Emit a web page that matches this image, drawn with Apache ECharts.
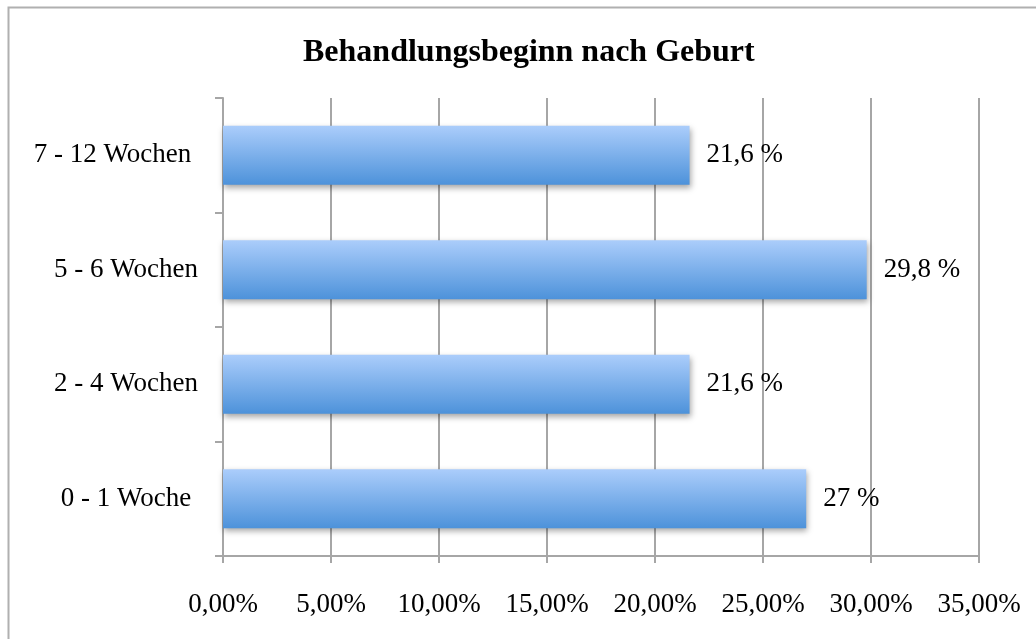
<!DOCTYPE html>
<html>
<head>
<meta charset="utf-8">
<script src="https://cdn.jsdelivr.net/npm/echarts@6/dist/echarts.min.js"></script>
<style>html,body{margin:0;padding:0;background:#fff}#c{width:1036px;height:639px}</style>
</head>
<body>
<div id="c"></div>
<script>
const titleText = 'Behandlungsbeginn nach Geburt';
const categories = ['0 - 1 Woche ', '2 - 4 Wochen', '5 - 6 Wochen', '7 - 12 Wochen '];
const values = [27, 21.6, 29.8, 21.6];
const valueLabels = ['27 %', '21,6 %', '29,8 %', '21,6 %'];
const xMin = 0, xMax = 35, xStep = 5;

const chart = echarts.init(document.getElementById('c'));
const font = '"Liberation Serif", "Times New Roman", serif';
const gridColor = '#a6a6a6';
chart.setOption({
  animation: false,
  textStyle: { fontFamily: font },
  graphic: [{
    type: 'rect', left: 6, top: 5, silent: true, z: -10,
    shape: { width: 1040, height: 640 },
    style: { fill: 'none', stroke: '#b0b0b0', lineWidth: 2 }
  }],
  title: {
    text: titleText, left: 298, top: 32,
    textStyle: { fontFamily: font, fontWeight: 'bold', fontSize: 32, color: '#000' }
  },
  grid: { left: 223, right: 57, top: 98, bottom: 83 },
  xAxis: {
    type: 'value', min: xMin, max: xMax, interval: xStep,
    axisLine: { show: true, lineStyle: { color: gridColor, width: 2 } },
    axisTick: { show: true, length: 7, lineStyle: { color: gridColor, width: 2 } },
    splitLine: { show: true, lineStyle: { color: gridColor, width: 2 } },
    axisLabel: {
      margin: 35, fontSize: 27, color: '#000', fontFamily: font,
      formatter: v => v.toFixed(2).replace('.', ',') + '%'
    }
  },
  yAxis: {
    type: 'category', data: categories,
    axisLine: { show: true, lineStyle: { color: gridColor, width: 2 } },
    axisTick: { show: true, length: 8, lineStyle: { color: gridColor, width: 2 } },
    axisLabel: { margin: 25, fontSize: 27, color: '#000', fontFamily: font }
  },
  series: [{
    type: 'bar', data: values, barWidth: '51.5%',
    itemStyle: {
      color: new echarts.graphic.LinearGradient(0, 0, 0, 1, [
        { offset: 0, color: '#abcdfb' },
        { offset: 1, color: '#4d92da' }
      ]),
      shadowColor: 'rgba(0,0,0,0.35)', shadowBlur: 6, shadowOffsetY: 3, shadowOffsetX: 1
    },
    label: {
      show: true, position: 'right', distance: 17, fontSize: 27, color: '#000', fontFamily: font,
      formatter: p => valueLabels[p.dataIndex]
    }
  }]
});
</script>
</body>
</html>
